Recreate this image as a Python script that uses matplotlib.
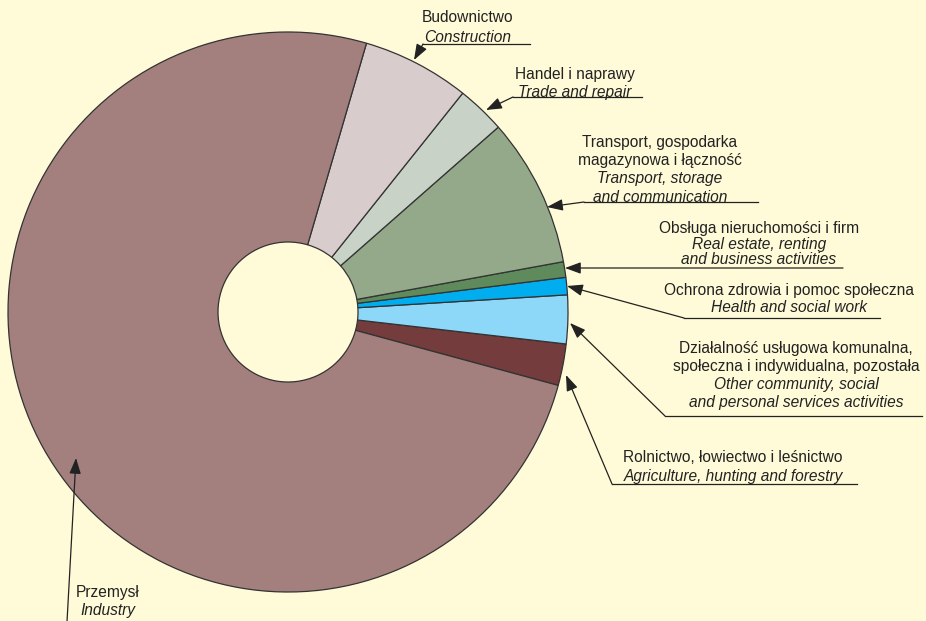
import matplotlib.pyplot as plt

# sectors, counter-clockwise starting from agriculture
sectors_pl = ['Rolnictwo, łowiectwo i leśnictwo',
              'Działalność usługowa komunalna,\nspołeczna i indywidualna, pozostała',
              'Ochrona zdrowia i pomoc społeczna',
              'Obsługa nieruchomości i firm',
              'Transport, gospodarka\nmagazynowa i łączność',
              'Handel i naprawy',
              'Budownictwo',
              'Przemysł']
sectors_en = ['Agriculture, hunting and forestry',
              'Other community, social\nand personal services activities',
              'Health and social work',
              'Real estate, renting\nand business activities',
              'Transport, storage\nand communication',
              'Trade and repair',
              'Construction',
              'Industry']
shares = [2.4, 2.8, 1.0, 0.9, 8.6, 2.8, 6.2, 75.3]
colors = ['#743c3c', '#8dd8f8', '#00aeef', '#5e8a5c', '#94a88a',
          '#c8d2c6', '#d8cccc', '#a3807e']

bg = '#fffbd8'
H = 621

def Y(y):
    # pixel row (from top) -> data y
    return H - y

fig = plt.figure(figsize=(9.26, 6.21), dpi=100, facecolor=bg)
ax = fig.add_axes([0, 0, 1, 1])
ax.set_facecolor(bg)

R = 280
ax.pie(shares, colors=colors, startangle=-15.2, counterclock=True,
       center=(288, Y(312)), radius=R,
       wedgeprops=dict(width=R * 0.75, edgecolor='#333333', linewidth=0.9))

ax.set_xlim(0, 926)
ax.set_ylim(0, H)
ax.set_aspect('equal')
ax.axis('off')

# label layout: text centre x, first line y, line step, underline (x0, x1, y), arrow tip
layout = [
    dict(x=733, y=458, step=18, line=(612, 857, 484), tip=(566, 375)),   # agriculture
    dict(x=796, y=349, step=18, line=(665, 922, 416), tip=(570, 323)),   # other
    dict(x=789, y=290, step=17, line=(684, 880, 318), tip=(567, 286)),   # health
    dict(x=759, y=228, step=16, line=(843, 843, 268), tip=(565, 268)),   # real estate
    dict(x=660, y=143, step=18, line=(584, 758, 202), tip=(547, 207)),   # transport
    dict(x=575, y=74, step=18, line=(513, 642, 97), tip=(486, 110)),     # trade
    dict(x=468, y=18, step=19, line=(423, 530, 44), tip=(414, 60)),      # construction
    dict(x=108, y=593, step=18, line=(66, 66, 640), tip=(76, 458)),      # industry
]

txt = '#222222'
for pl, en, lay in zip(sectors_pl, sectors_en, layout):
    lines = [(s, 'normal') for s in pl.split('\n')] + \
            [(s, 'italic') for s in en.split('\n')]
    for i, (s, st) in enumerate(lines):
        ax.text(lay['x'], Y(lay['y'] + i * lay['step']), s, ha='center', va='center',
                fontsize=11.2, style=st, color=txt, family='Liberation Sans')
    x0, x1, ly = lay['line']
    if x1 != x0:
        ax.plot([x0, x1], [Y(ly), Y(ly)], color=txt, lw=0.9, clip_on=False)
    ax.annotate('', xy=(lay['tip'][0], Y(lay['tip'][1])), xytext=(x0, Y(ly)),
                arrowprops=dict(arrowstyle='-|>,head_length=0.6,head_width=0.22',
                                color=txt, lw=0.9, mutation_scale=16,
                                shrinkA=0, shrinkB=0),
                annotation_clip=False)

fig.savefig('out.png', dpi=100, facecolor=bg)
